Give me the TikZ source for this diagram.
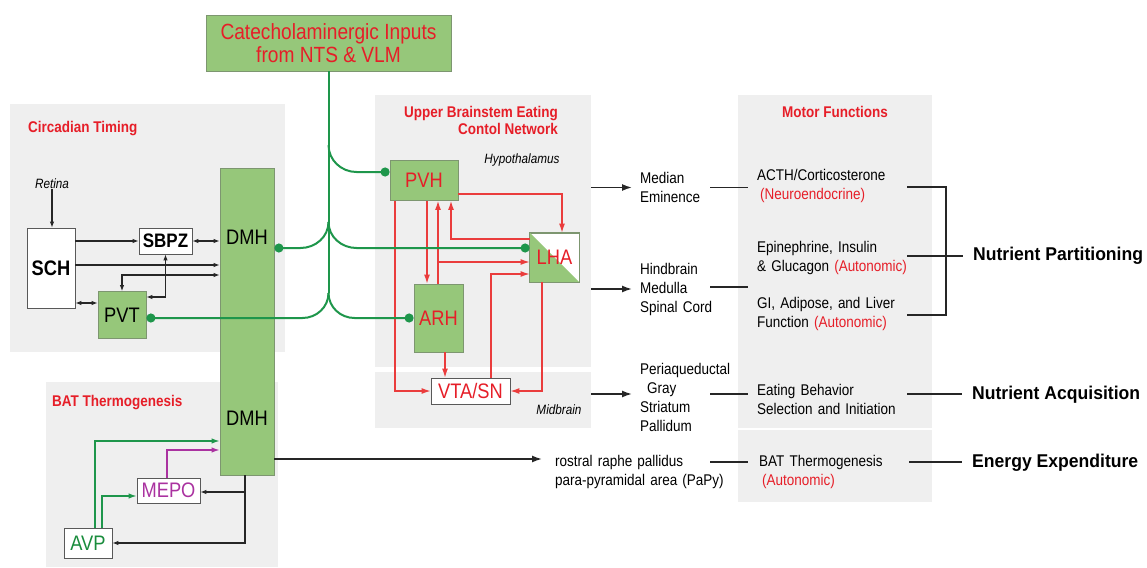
\documentclass[tikz,border=0pt]{standalone}
\usepackage{fontspec}
\setmainfont{Liberation Sans}[FakeStretch=0.87]
\newfontfamily\widefont{Liberation Sans}[FakeStretch=0.95]
\usetikzlibrary{arrows.meta,calc}
\definecolor{bgc}{RGB}{239,239,239}
\definecolor{gfill}{RGB}{150,199,122}
\definecolor{gborder}{RGB}{125,150,112}
\definecolor{gline}{RGB}{30,150,75}
\definecolor{rtxt}{RGB}{230,30,40}
\definecolor{rline}{RGB}{234,60,60}
\definecolor{mag}{RGB}{170,50,160}
\definecolor{gtxt}{RGB}{25,140,60}
\begin{document}
\begin{tikzpicture}[x=1pt,y=-1pt,
  bg/.style={fill=bgc,draw=none,inner sep=0,anchor=north west},
  gbox/.style={draw=gborder,fill=gfill,line width=0.8pt,inner sep=0},
  wbox/.style={draw=black!65,fill=white,line width=0.8pt,inner sep=0},
  lbl/.style={font=\fontsize{21}{24}\selectfont},
  ttl/.style={font=\bfseries\fontsize{15.5}{17}\selectfont,text=rtxt,inner sep=0},
  txt/.style={font=\fontsize{15.5}{19}\selectfont,align=left,inner ysep=0,anchor=west},
  rt/.style={font=\widefont\bfseries\fontsize{18.5}{20}\selectfont,anchor=west,inner xsep=10pt,inner ysep=0},
  itl/.style={font=\itshape\fontsize{13.5}{15}\selectfont,inner sep=0},
  blk/.style={draw=black!85,line width=1.1pt,-{Latex[length=6pt,width=4.5pt]}},
  blktwo/.style={draw=black!85,line width=1.1pt,{Latex[length=6pt,width=4.5pt]}-{Latex[length=6pt,width=4.5pt]}},
  bigarr/.style={draw=black!85,line width=1.5pt,-{Latex[length=10pt,width=7pt]}},
  ln/.style={draw=black!85,line width=1.1pt},
  rarrow/.style={draw=rline,line width=1.2pt,-{Latex[length=9pt,width=6pt]}},
  garrow/.style={draw=gline,line width=1.3pt,-{Latex[length=8pt,width=5.5pt]}},
  marrow/.style={draw=mag,line width=1.3pt,-{Latex[length=8pt,width=5.5pt]}},
  gl/.style={draw=gline,line width=2pt},
  gdot/.style={draw=gline,line width=2pt,-{Circle[length=9pt]}}
]
\useasboundingbox (0,0) rectangle (1147,567);
% backgrounds
\node[bg,minimum width=275pt,minimum height=248pt] (cbox) at (10,104) {};
\node[bg,minimum width=232pt,minimum height=185pt] (bbox) at (46,382) {};
\node[bg,minimum width=216pt,minimum height=272pt] (ubox) at (375,95) {};
\node[bg,minimum width=216pt,minimum height=56pt] (mbox) at (375,372) {};
\node[bg,minimum width=194pt,minimum height=333pt] (fbox) at (738,95) {};
\node[bg,minimum width=194pt,minimum height=72pt] (fbox2) at (738,430) {};

% titles
\node[ttl,anchor=west] (tc) at (28,129) {Circadian Timing};
\node[ttl,anchor=west] (tb) at (52,403) {BAT Thermogenesis};
\node[ttl,anchor=east,align=right] (tu) at (558,120.5) {Upper Brainstem Eating\\Contol Network};
\node[ttl] (tm) at (835,112) {Motor Functions};
\node[itl] (hypo) at (522,160) {Hypothalamus};
\node[itl] (midb) at (559,410) {Midbrain};
\node[itl] (retina) at (52,184) {Retina};

% main boxes
\node[gbox,minimum width=245pt,minimum height=56pt,font=\fontsize{22}{23.5}\selectfont,text=rtxt,align=center] (cat) at (328.5,43) {Catecholaminergic Inputs\\from NTS \& VLM};
\node[gbox,minimum width=54pt,minimum height=307pt] (dmh) at (247,321.5) {};
\node[lbl] (dmhA) at (247,237) {DMH};
\node[lbl] (dmhB) at (247,418) {DMH};
\node[wbox,minimum width=48pt,minimum height=80pt,font=\bfseries\fontsize{21}{24}\selectfont] (sch) at (51,268) {SCH};
\node[wbox,minimum width=53pt,minimum height=26pt,font=\bfseries\fontsize{19.5}{22}\selectfont] (sbpz) at (165.5,241) {SBPZ};
\node[gbox,minimum width=48pt,minimum height=47pt,lbl] (pvt) at (122,315) {PVT};

\node[gbox,minimum width=68pt,minimum height=40pt,lbl,text=rtxt] (pvh) at (424,180.5) {PVH};
\node[draw=gborder,fill=white,line width=0.8pt,minimum size=49pt,inner sep=0] (lha) at (554.5,257.5) {};
\fill[gfill] (lha.north west) -- (lha.south east) -- (lha.south west) -- cycle;
\draw[gborder,line width=0.8pt] (lha.north west) rectangle (lha.south east);
\node[lbl,text=rtxt] (lhaT) at (lha.center) {LHA};
\node[gbox,minimum width=49pt,minimum height=68pt,lbl,text=rtxt] (arh) at (438.5,318) {ARH};
\node[wbox,minimum width=79pt,minimum height=26pt,lbl,text=rtxt] (vta) at (470.5,391) {VTA/SN};

\node[wbox,minimum width=63pt,minimum height=25pt,lbl,text=mag] (mepo) at (168.5,490.5) {MEPO};
\node[wbox,minimum width=48pt,minimum height=30pt,lbl,text=gtxt] (avp) at (88,543) {AVP};

% text columns
\node[txt,inner xsep=8pt,text width=62pt] (median) at (632,187.5) {Median\\Eminence};
\node[txt,inner xsep=8pt,text width=62pt] (hind) at (632,289.5) {\mbox{Hindbrain}\\\mbox{Medulla}\\\mbox{Spinal Cord}};
\node[txt,inner xsep=8pt,text width=62pt] (peri) at (632,397) {\mbox{Periaqueductal}\\\hspace*{7pt}Gray\\\mbox{Striatum}\\\mbox{Pallidum}};
\node[txt,inner xsep=13pt,text width=142pt] (raphe) at (542,472) {\mbox{rostral raphe pallidus}\\\mbox{para-pyramidal area (PaPy)}};

\node[txt,inner xsep=9pt,text width=141pt] (acth) at (748,186) {\mbox{ACTH/Corticosterone}\\\hspace*{3pt}\textcolor{rtxt}{(Neuroendocrine)}};
\node[txt,inner xsep=9pt,text width=141pt] (epi) at (748,257.5) {\mbox{Epinephrine, Insulin}\\\mbox{\& Glucagon \textcolor{rtxt}{(Autonomic)}}};
\node[txt,inner xsep=9pt,text width=141pt] (gi) at (748,313.5) {\mbox{GI, Adipose, and Liver}\\\mbox{Function \textcolor{rtxt}{(Autonomic)}}};
\node[txt,inner xsep=9pt,text width=141pt] (eat) at (748,399) {\mbox{Eating Behavior}\\\mbox{Selection and Initiation}};
\node[txt,inner xsep=11pt,text width=139pt] (bat) at (748,472) {\mbox{BAT Thermogenesis}\\\hspace*{3pt}\textcolor{rtxt}{(Autonomic)}};

\node[rt] (np) at (963,256) {Nutrient Partitioning};
\node[rt] (na) at (962,395) {Nutrient Acquisition};
\node[rt] (ee) at (962,463) {Energy Expenditure};

% circadian connectors
\draw[blk] (retina.south) -- (retina.south |- sch.north);
\draw[blk] (sch.east |- sbpz.west) -- (sbpz.west);
\draw[blktwo] (sbpz.east) -- (dmh.west |- sbpz.east);
\draw[blk] (sch.east |- 0,265) -- (dmh.west |- 0,265);
\draw[blktwo] (pvt.north) |- (dmh.west |- 0,275);
\draw[blktwo] (sbpz.south) |- (pvt.east |- 0,297);
\draw[blktwo] (sch.east |- 0,303) -- (pvt.west |- 0,303);

% BAT connectors
\draw[garrow] (avp.north -| 95,0) |- (dmh.west |- 0,441);
\draw[garrow] (avp.north -| 102,0) |- (mepo.west |- 0,496);
\draw[marrow] (mepo.north -| 167,0) |- (dmh.west |- 0,450);
\coordinate (jb) at (245,492);
\draw[blk] (dmh.south -| 245,0) |- (avp.east |- 0,543);
\draw[blk] (jb) -- (mepo.east |- jb);
\draw[bigarr] (dmh.east |- 0,459) -- (raphe.west |- 0,459);

% red network
\draw[rarrow] (pvh.east |- 0,194) -| (lha.north -| 562,0);
\draw[rarrow] (lha.west |- 0,239) -| (pvh.south -| 451,0);
\draw[rarrow] (arh.north -| 438,0) -- (pvh.south -| 438,0);
\draw[rarrow] (arh.north -| 438,0) |- (lha.west |- 0,262);
\draw[rarrow] (pvh.south -| 427,0) -- (arh.north -| 427,0);
\draw[rarrow] (pvh.south -| 395,0) |- (vta.west);
\draw[rarrow] (arh.south -| 445,0) -- (vta.north -| 445,0);
\draw[rarrow] (vta.north -| 491,0) |- (lha.west |- 0,274);
\draw[rarrow] (lha.south -| 542,0) |- (vta.east);

% green inputs
\coordinate (j1) at (328.5,145);
\coordinate (j2) at (328.5,222);
\coordinate (j3) at (328.5,293);
\draw[gl] (cat.south) -- (j3);
\draw[gdot] (j1) to[out=-90,in=180] ++(28,27) -- (pvh.west |- 0,172);
\draw[gdot] (j2) to[out=-90,in=0] ++(-28,26) -- (dmh.east |- 0,248);
\draw[gdot] (j2) to[out=-90,in=180] ++(28,26) -- (lha.west |- 0,248);
\draw[gdot] (j3) to[out=-90,in=0] ++(-26,25) -- (pvt.east |- 0,318);
\draw[gdot] (j3) to[out=-90,in=180] ++(26,25) -- (arh.west |- 0,318);

% outputs to the right
\draw[bigarr] (ubox.east |- median.west) -- (median.west);
\draw[bigarr] (ubox.east |- 0,289) -- (hind.west |- 0,289);
\draw[bigarr] (mbox.east |- 0,394) -- (peri.west |- 0,394);
\draw[ln] (median.east) -- (median.east -| acth.west);
\draw[ln] (hind.east |- 0,287) -- (acth.west |- 0,287);
\draw[ln] (peri.east |- 0,394) -- (eat.west |- 0,394);
\draw[ln] (raphe.east |- 0,462) -- (bat.west |- 0,462);
\coordinate (brk) at (946,256);
\draw[ln] (acth.east |- 0,187) -| (brk) |- (gi.east |- 0,315);
\draw[ln] (epi.east |- 0,256) -- (np.west);
\draw[ln] (eat.east |- 0,394) -- (na.west |- 0,394);
\draw[ln] (bat.east |- 0,462) -- (ee.west |- 0,462);
\end{tikzpicture}
\end{document}
